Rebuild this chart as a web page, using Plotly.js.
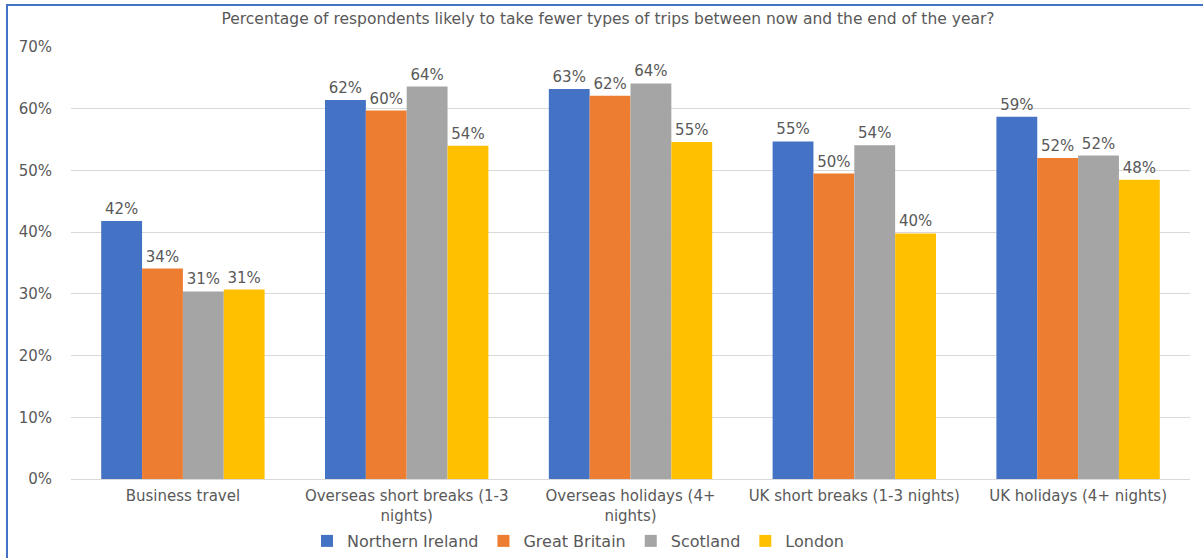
<!DOCTYPE html>
<html>
<head>
<meta charset="utf-8">
<script src="https://cdn.plot.ly/plotly-3.0.1.min.js"></script>
<style>
  html, body { margin: 0; padding: 0; background: #fff; }
  #wrap { position: relative; width: 1203px; height: 558px; overflow: hidden; }
  #chart { width: 1203px; height: 558px; }
  #frame { position: absolute; left: 6px; top: 4px; width: 1300px; height: 700px;
           border-left: 2px solid #4472C4; border-top: 2px solid #4472C4; pointer-events: none; }
</style>
</head>
<body>
<div id="wrap">
  <div id="chart"></div>
  <div id="frame"></div>
</div>
<script>
const categories = [
  "Business travel",
  "Overseas short breaks (1-3<br>nights)",
  "Overseas holidays (4+<br>nights)",
  "UK short breaks (1-3 nights)",
  "UK holidays (4+ nights)"
];
const seriesNames = ["Northern Ireland", "Great Britain", "Scotland", "London"];
const northernIreland = [41.8, 61.4, 63.2, 54.7, 58.7];
const greatBritain    = [34.1, 59.7, 62.1, 49.5, 52.0];
const scotland        = [30.4, 63.6, 64.1, 54.1, 52.4];
const london          = [30.7, 54.0, 54.6, 39.8, 48.5];
const labelsNI       = ["42%", "62%", "63%", "55%", "59%"];
const labelsGB       = ["34%", "60%", "62%", "50%", "52%"];
const labelsScotland = ["31%", "64%", "64%", "54%", "52%"];
const labelsLondon   = ["31%", "54%", "55%", "40%", "48%"];
const yTickVals = [0, 10, 20, 30, 40, 50, 60, 70];
const yTickText = ["0%", "10%", "20%", "30%", "40%", "50%", "60%", "70%"];
const colors = ["#4472C4", "#ED7D31", "#A5A5A5", "#FFC000"];

const values = [northernIreland, greatBritain, scotland, london];
const labels = [labelsNI, labelsGB, labelsScotland, labelsLondon];
const textColor = "#595959";
const fontFam = "'DejaVu Sans', 'Open Sans', sans-serif";

const traces = seriesNames.map((name, i) => ({
  type: "bar",
  name: name,
  x: categories,
  y: values[i],
  text: labels[i],
  textposition: "outside",
  cliponaxis: false,
  textfont: { family: fontFam, size: 15, color: textColor },
  marker: { color: colors[i] },
  hoverinfo: "x+y+name"
}));

const layout = {
  width: 1203,
  height: 558,
  margin: { l: 71, r: 13, t: 47, b: 79 },
  paper_bgcolor: "#ffffff",
  plot_bgcolor: "#ffffff",
  barmode: "group",
  bargap: 0.27,
  bargroupgap: 0,
  font: { family: fontFam, color: textColor, size: 15 },
  title: {
    text: "Percentage of respondents likely to take fewer types of trips between now and the end of the year?",
    font: { family: fontFam, size: 15.5, color: textColor },
    x: 608 / 1203, xref: "container", xanchor: "center",
    y: 1 - 19 / 558, yref: "container", yanchor: "middle"
  },
  xaxis: {
    type: "category",
    showgrid: false,
    showline: false,
    ticks: "",
    ticklabelstandoff: 6,
    tickfont: { family: fontFam, size: 15, color: textColor },
    automargin: false
  },
  yaxis: {
    range: [0, 70],
    tickvals: yTickVals,
    ticktext: yTickText,
    showgrid: true,
    gridcolor: "#d9d9d9",
    gridwidth: 1,
    zeroline: true,
    zerolinecolor: "#d9d9d9",
    zerolinewidth: 1,
    showline: false,
    ticks: "",
    ticklabelstandoff: 18,
    tickfont: { family: fontFam, size: 15, color: textColor },
    automargin: false
  },
  showlegend: true,
  legend: {
    orientation: "h",
    x: 578 / 1203, xref: "container", xanchor: "center",
    y: 17 / 558, yref: "container", yanchor: "middle",
    font: { family: fontFam, size: 16, color: textColor },
    itemwidth: 30,
    traceorder: "normal",
    bgcolor: "rgba(0,0,0,0)"
  }
};

Plotly.newPlot("chart", traces, layout, { displayModeBar: false, staticPlot: true });
</script>
</body>
</html>
